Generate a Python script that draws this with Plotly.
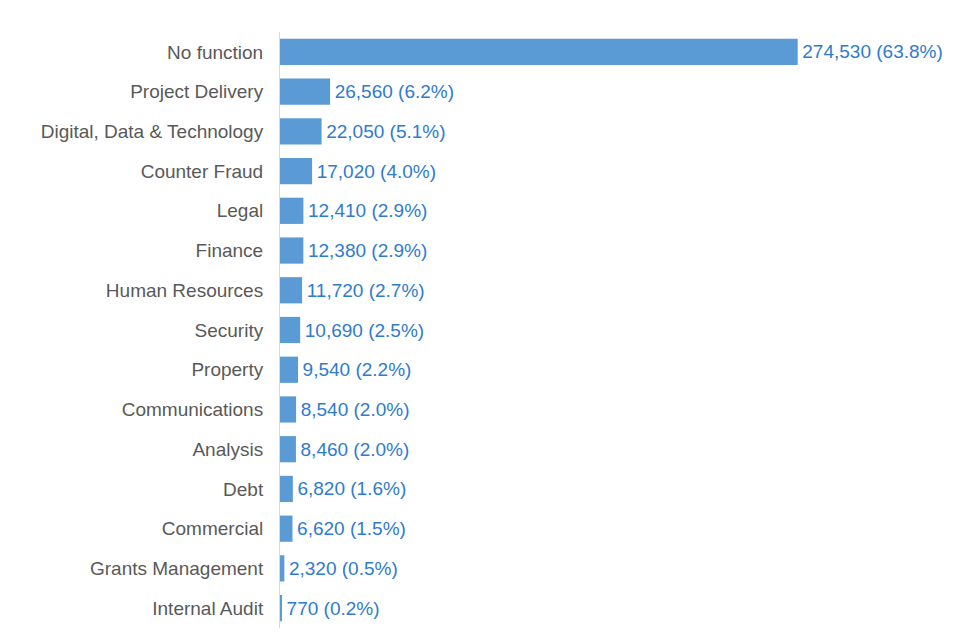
import plotly.graph_objects as go

categories = ["No function", "Project Delivery", "Digital, Data & Technology", "Counter Fraud",
              "Legal", "Finance", "Human Resources", "Security", "Property", "Communications",
              "Analysis", "Debt", "Commercial", "Grants Management", "Internal Audit"]
values = [274530, 26560, 22050, 17020, 12410, 12380, 11720, 10690, 9540, 8540, 8460, 6820, 6620, 2320, 770]
percents = ["63.8%", "6.2%", "5.1%", "4.0%", "2.9%", "2.9%", "2.7%", "2.5%", "2.2%", "2.0%",
            "2.0%", "1.6%", "1.5%", "0.5%", "0.2%"]

labels = [f"\u200a{v:,} ({p})" for v, p in zip(values, percents)]

FONT = "Liberation Sans, Arial, sans-serif"

fig = go.Figure(go.Bar(
    x=values, y=categories, orientation="h",
    marker=dict(color="#5B9BD5", line=dict(width=0)),
    text=labels, textposition="outside", cliponaxis=False,
    textfont=dict(color="#2E7BCF", size=19, family=FONT),
    hoverinfo="skip",
))

fig.update_layout(
    width=960, height=640,
    margin=dict(l=272, r=28, t=24, b=20, autoexpand=False),
    plot_bgcolor="white", paper_bgcolor="white",
    bargap=0.34, showlegend=False,
    font=dict(family=FONT, size=19, color="#595959"),
)
fig.update_xaxes(visible=False, range=[0, 350000], automargin=False)
fig.update_yaxes(autorange="reversed", showline=True, linecolor="#D9D9D9", linewidth=1,
                 showgrid=False, ticks="", ticklabelstandoff=12, automargin=False,
                 tickfont=dict(size=19, color="#595959", family=FONT))

fig.write_html("out.html")
